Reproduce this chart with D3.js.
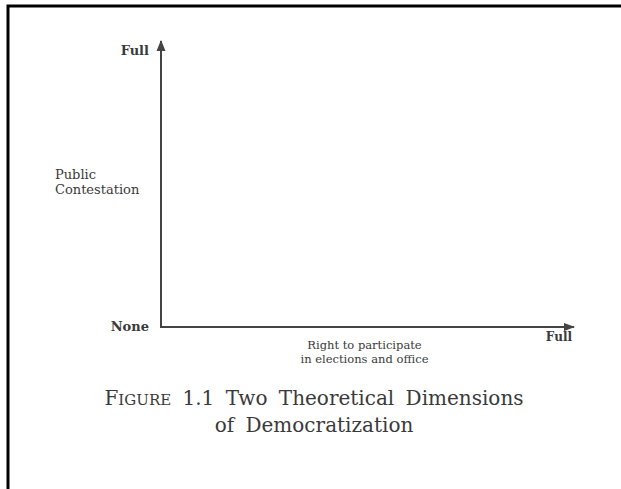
<!DOCTYPE html>
<html>
<head>
<meta charset="utf-8">
<script src="https://cdn.jsdelivr.net/npm/d3@7"></script>
<style>
  html, body { margin: 0; padding: 0; background: #fff; }
  svg { display: block; }
  text { font-family: "DejaVu Serif", "Liberation Serif", serif; fill: #3a3a3a; }
</style>
</head>
<body>
<svg width="621" height="489"></svg>
<script>
// data
var levels = [0, 1];
var yLevelLabels = ["None", "Full"];
var xLevelLabels = ["", "Full"];
var yTitle = ["Public", "Contestation"];
var xTitle = ["Right to participate", "in elections and office"];
var captionLines = [["Figure", " 1.1 Two Theoretical Dimensions"], ["", "of Democratization"]];
// end of data

var svg = d3.select("svg"),
    width = +svg.attr("width"),
    height = +svg.attr("height");

svg.append("rect").attr("width", width).attr("height", height).attr("fill", "#fff");

// frame: only top and left edges show
svg.append("path")
  .attr("d", "M8," + height + "V6H" + width)
  .attr("fill", "none")
  .attr("stroke", "#000")
  .attr("stroke-width", 3);

var x = d3.scaleLinear().domain([0, 1]).range([161, 574]),
    y = d3.scaleLinear().domain([0, 1]).range([327, 41]);

var axisColor = "#444";

// axes lines
svg.append("path")
  .attr("d", "M" + x(0) + "," + y(1) + "V" + y(0) + "H" + x(1))
  .attr("fill", "none")
  .attr("stroke", axisColor)
  .attr("stroke-width", 2);

// arrow heads
svg.append("path")
  .attr("d", "M" + x(0) + "," + (y(1) - 1) + "l-4.5,11h9z")
  .attr("fill", axisColor);
svg.append("path")
  .attr("d", "M" + (x(1) + 1) + "," + y(0) + "l-11,-4v8z")
  .attr("fill", axisColor);

// y level labels
svg.selectAll(".ylab")
  .data(levels)
  .enter().append("text")
    .attr("class", "ylab")
    .attr("x", x(0) - 12)
    .attr("y", function(d) { return y(d) + (d === 0 ? 4 : 14); })
    .attr("text-anchor", "end")
    .attr("font-size", 13)
    .attr("font-weight", "bold")
    .text(function(d, i) { return yLevelLabels[i]; });

// x level labels (origin shared with None)
svg.selectAll(".xlab")
  .data(levels.filter(function(d, i) { return xLevelLabels[i]; }))
  .enter().append("text")
    .attr("class", "xlab")
    .attr("x", function(d) { return x(d) - 2; })
    .attr("y", y(0) + 14)
    .attr("text-anchor", "end")
    .attr("font-size", 12)
    .attr("font-weight", "bold")
    .text(function(d) { return xLevelLabels[levels.indexOf(d)]; });

// y title
svg.append("text")
  .attr("x", 55)
  .attr("y", 179)
  .attr("font-size", 13)
  .selectAll("tspan")
  .data(yTitle)
  .enter().append("tspan")
    .attr("x", 55)
    .attr("dy", function(d, i) { return i ? 15 : 0; })
    .text(function(d) { return d; });

// x title
svg.append("text")
  .attr("x", x(0.5) - 3)
  .attr("y", y(0) + 22)
  .attr("text-anchor", "middle")
  .attr("font-size", 11.5)
  .selectAll("tspan")
  .data(xTitle)
  .enter().append("tspan")
    .attr("x", x(0.5) - 3)
    .attr("dy", function(d, i) { return i ? 13.5 : 0; })
    .text(function(d) { return d; });

// caption
var cap = svg.append("g").attr("transform", "translate(314,0)");
captionLines.forEach(function(line, i) {
  var t = cap.append("text")
    .attr("x", 0)
    .attr("y", 405 + i * 27)
    .attr("text-anchor", "middle")
    .attr("font-size", 20)
    .attr("word-spacing", 5);
  if (line[0]) {
    t.append("tspan").text(line[0][0]);
    t.append("tspan").attr("font-size", 15).text(line[0].slice(1).toUpperCase());
  }
  t.append("tspan").text(line[1]);
});
</script>
</body>
</html>
